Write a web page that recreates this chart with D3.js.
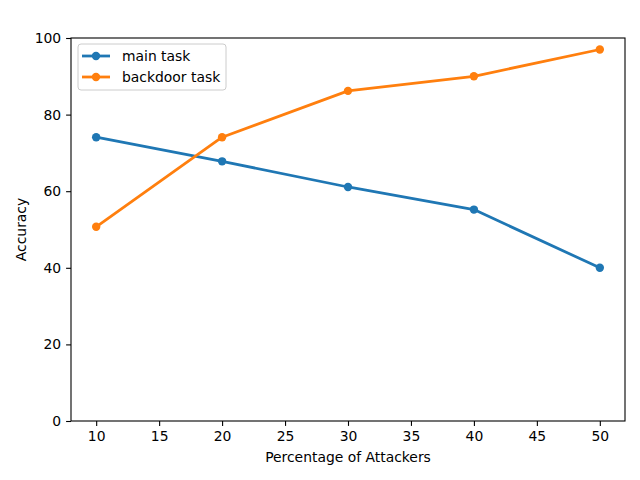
<!DOCTYPE html>
<html>
<head>
<meta charset="utf-8">
<script src="https://cdn.jsdelivr.net/npm/d3@7"></script>
<style>
  body { margin: 0; background: #fff; }
  svg { font-family: 'DejaVu Sans', sans-serif; }
</style>
</head>
<body>
<div id="chart"></div>
<script>
var attackers = [10, 20, 30, 40, 50];
var mainTask = [74.1, 67.8, 61.1, 55.2, 40.0];
var backdoorTask = [50.7, 74.1, 86.2, 90.0, 97.0];
var xTicks = [10, 15, 20, 25, 30, 35, 40, 45, 50];
var yTicks = [0, 20, 40, 60, 80, 100];

var W = 640, H = 480;
var margin = { top: 38, right: 15, bottom: 59, left: 71 };
var width = W - margin.left - margin.right;
var height = H - margin.top - margin.bottom;

var svg = d3.select('#chart')
    .append('svg')
    .attr('width', W)
    .attr('height', H)
    .append('g')
    .attr('transform', 'translate(' + margin.left + ',' + margin.top + ')');

var x = d3.scaleLinear().domain([8, 52]).range([0, width]);
var y = d3.scaleLinear().domain([0, 100]).range([height, 0]);

// Axes
var xAxis = svg.append('g')
    .attr('transform', 'translate(0,' + height + ')')
    .call(d3.axisBottom(x).tickValues(xTicks).tickSize(4.9).tickPadding(4.9).tickSizeOuter(0));
var yAxis = svg.append('g')
    .call(d3.axisLeft(y).tickValues(yTicks).tickSize(4.9).tickPadding(4.9).tickSizeOuter(0));

[xAxis, yAxis].forEach(function(a) {
    a.select('.domain').remove();
    a.selectAll('text').attr('font-size', '13.9px').attr('fill', '#000')
        .attr('font-family', 'DejaVu Sans, sans-serif');
    a.selectAll('line').attr('stroke', '#000').attr('stroke-width', 1.1);
});

// Frame
svg.append('rect')
    .attr('width', width)
    .attr('height', height)
    .attr('fill', 'none')
    .attr('stroke', '#000')
    .attr('stroke-width', 1.1);

// Labels
svg.append('text')
    .attr('x', width / 2)
    .attr('y', height + 41)
    .attr('text-anchor', 'middle')
    .attr('font-size', '13.9px')
    .text('Percentage of Attackers');

svg.append('text')
    .attr('transform', 'translate(' + (-45) + ',' + (height / 2) + ') rotate(-90)')
    .attr('text-anchor', 'middle')
    .attr('font-size', '13.9px')
    .text('Accuracy');

var line = d3.line()
    .x(function(d) { return x(d[0]); })
    .y(function(d) { return y(d[1]); });

var series = [
    { name: 'main task', color: '#1f77b4', values: mainTask },
    { name: 'backdoor task', color: '#ff7f0e', values: backdoorTask }
];

series.forEach(function(s) {
    var pts = attackers.map(function(a, i) { return [a, s.values[i]]; });
    svg.append('path')
        .datum(pts)
        .attr('fill', 'none')
        .attr('stroke', s.color)
        .attr('stroke-width', 2.78)
        .attr('stroke-linejoin', 'round')
        .attr('d', line);
    svg.selectAll(null)
        .data(pts)
        .enter()
        .append('circle')
        .attr('cx', function(d) { return x(d[0]); })
        .attr('cy', function(d) { return y(d[1]); })
        .attr('r', 4.2)
        .attr('fill', s.color);
});

// Legend
var legend = svg.append('g').attr('transform', 'translate(7,6)');
legend.append('rect')
    .attr('width', 148)
    .attr('height', 46)
    .attr('rx', 3)
    .attr('fill', '#fff')
    .attr('fill-opacity', 0.8)
    .attr('stroke', '#ccc')
    .attr('stroke-width', 1);

series.forEach(function(s, i) {
    var row = legend.append('g').attr('transform', 'translate(0,' + (12 + i * 21) + ')');
    row.append('line')
        .attr('x1', 4).attr('x2', 32)
        .attr('stroke', s.color)
        .attr('stroke-width', 2.78);
    row.append('circle')
        .attr('cx', 18)
        .attr('r', 4.2)
        .attr('fill', s.color);
    row.append('text')
        .attr('x', 44)
        .attr('dy', '0.35em')
        .attr('font-size', '13.9px')
        .text(s.name);
});
</script>
</body>
</html>
